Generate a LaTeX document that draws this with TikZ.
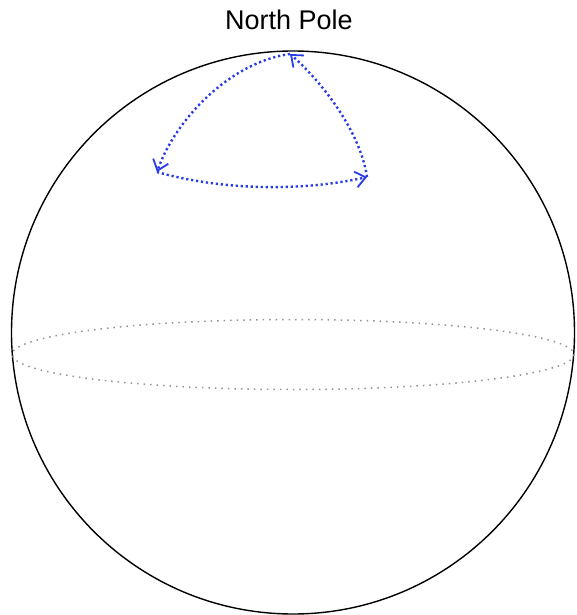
\documentclass[tikz,border=0pt]{standalone}
\usepackage{fontspec}
\setmainfont{Liberation Sans}
\usetikzlibrary{arrows.meta}
\begin{document}
\begin{tikzpicture}[x=1pt,y=-1pt,
  pathline/.style={color={rgb,255:red,40;green,60;blue,230},line width=2.4pt,dash pattern=on 2.2pt off 2.8pt,-{Straight Barb[length=10pt,width=16pt,line width=1.8pt]}},
  eqline/.style={gray!85,line width=1.5pt,dash pattern=on 1.5pt off 5pt}]
\useasboundingbox (0,0) rectangle (576,615);
\node[anchor=base] (title) at (289,30) {\fontsize{27}{31}\selectfont North Pole};
\node[circle,draw,line width=1.4pt,minimum size=563pt,inner sep=0pt] (sphere) at (293,332.5) {};
\draw[eqline] (sphere.center) ++(0,22) ellipse [x radius=281, y radius=35];
\coordinate (pole) at (290,54);
\coordinate (lv) at (157,172);
\coordinate (rv) at (367,177);
\draw[pathline] (rv) .. controls (360,130) and (320,80) .. (pole);
\draw[pathline] (pole) .. controls (230,62) and (175,120) .. (lv);
\draw[pathline] (lv) .. controls (220,190) and (300,192) .. (rv);
\end{tikzpicture}
\end{document}
